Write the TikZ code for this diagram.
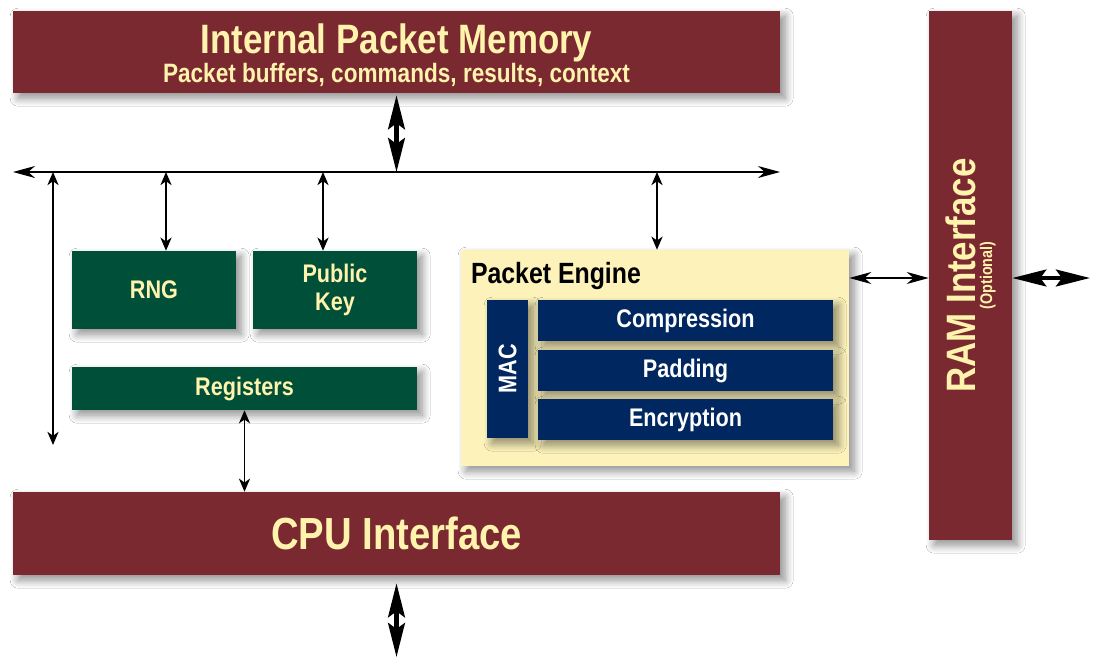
\documentclass[tikz,border=0pt]{standalone}
\usepackage{fontspec}
\setmainfont{Liberation Sans}[FakeStretch=0.85]
\usetikzlibrary{arrows.meta,shadows.blur}

\definecolor{ipmred}{RGB}{123,41,48}
\definecolor{blockgreen}{RGB}{0,79,57}
\definecolor{enginenavy}{RGB}{0,39,96}
\definecolor{engineyellow}{RGB}{252,242,186}
\definecolor{labelcream}{RGB}{255,243,173}

\begin{document}
\begin{tikzpicture}[every node/.style={font=\bfseries, inner sep=0pt}, >={Stealth[length=3.3mm,width=2.8mm,inset=1mm]},
	link/.style={<->, line width=1pt},
	buslink/.style={{Stealth[length=5.5mm,width=3mm,inset=1.7mm]}-{Stealth[length=5.5mm,width=3mm,inset=1.7mm]}, line width=1pt},
	fat/.style={{Stealth[length=8.5mm,width=4.2mm,inset=1.5mm]}-{Stealth[length=8.5mm,width=4.2mm,inset=1.5mm]}, line width=3pt},
	shade/.style={blur shadow={shadow xshift=1.3mm, shadow yshift=-1.3mm, shadow blur radius=2mm, shadow blur steps=12, shadow opacity=45}},
	memory/.style={fill=ipmred, text=labelcream, shade},
	unit/.style={fill=blockgreen, text=labelcream, shade, font=\bfseries\fontsize{18.1}{20}\selectfont},
	stage/.style={fill=enginenavy, text=white, shade, font=\bfseries\fontsize{18.1}{20}\selectfont}]
	\useasboundingbox (0,0) rectangle (27.475,-16.425);
	\fill[white] (0,0) rectangle (27.475,-16.425);
	% memory, cpu and ram blocks
	\node[memory, minimum width=19.175cm, minimum height=2.05cm] (ipm) at (9.9125,-1.3) {};
	\node[text=labelcream, align=center] (ipmtxt) at ([yshift=-0.08cm]ipm.center) {\fontsize{29.2}{20}\selectfont Internal Packet Memory\\\fontsize{18.9}{20}\selectfont Packet buffers, commands, results, context};
	\node[memory, minimum width=19.175cm, minimum height=2.075cm] (cpu) at (9.9125,-13.3375) {\fontsize{32}{36}\selectfont CPU Interface};
	\node[memory, minimum width=2.075cm, minimum height=13.225cm] (ram) at (24.2625,-6.8875) {};
	\node[rotate=90, text=labelcream, align=center] (ramtxt) at (ram) {\fontsize{29.2}{22}\selectfont RAM Interface\\\fontsize{12}{14}\selectfont (Optional)};
	% crypto units
	\node[unit, minimum width=4.1cm, minimum height=1.95cm] (rng) at (3.85,-7.25) {RNG};
	\node[unit, minimum width=4.1cm, minimum height=1.95cm, align=center] (pk) at (8.375,-7.25) {Public\\Key};
	\node[unit, minimum width=8.625cm, minimum height=1.075cm] (reg) at (6.1125,-9.7125) {Registers};
	% packet engine
	\node[fill=engineyellow, shade, minimum width=9.7cm, minimum height=5.4cm] (pe) at (16.375,-8.95) {};
	\node[anchor=base west, font=\bfseries\fontsize{20.8}{24}\selectfont] (petitle) at ([xshift=0.25cm,yshift=-0.85cm]pe.north west) {Packet Engine};
	\node[stage, minimum width=1.025cm, minimum height=3.45cm] (mac) at (12.6875,-9.225) {};
	\node[rotate=90, text=white, font=\bfseries\fontsize{18.1}{20}\selectfont] (mactxt) at (mac) {MAC};
	\node[stage, minimum width=7.375cm, minimum height=1.025cm] (comp) at (17.1375,-8.0125) {Compression};
	\node[stage, minimum width=7.375cm, minimum height=1.025cm] (pad) at (17.1375,-9.2625) {Padding};
	\node[stage, minimum width=7.375cm, minimum height=1.025cm] (enc) at (17.1375,-10.4875) {Encryption};
	% bus
	\coordinate (busL) at (0.325,-4.3);
	\coordinate (busR) at (19.5,-4.3);
	\coordinate (tapleft) at (1.325,-4.3);
	\coordinate (tapend) at (1.325,-11.125);
	\coordinate (taprng) at (4.15,-4.3);
	\coordinate (tappk) at (8.075,-4.3);
	\coordinate (tappe) at (16.425,-4.3);
	\coordinate (ramport) at (24.2625,-6.95);
	\coordinate (ramout) at (27.25,-6.95);
	\coordinate (cpuout) at (9.9125,-16.425);
	\draw[buslink] (busL) -- (busR);
	\draw[link] (tapleft) -- (tapend);
	\draw[link] (taprng) -- (taprng |- rng.north);
	\draw[link] (tappk) -- (tappk |- pk.north);
	\draw[link] (tappe) -- (tappe |- pe.north);
	\draw[link] (reg.south) -- (reg.south |- cpu.north);
	\draw[buslink] (pe.east |- ramport) -- (ram.west |- ramport);
	\draw[fat] ([yshift=-0.05cm]ipm.south) -- (ipm.south |- busL);
	\draw[fat] ([yshift=-0.2cm]cpu.south) -- (cpuout);
	\draw[fat] (ram.east |- ramport) -- (ramout);
\end{tikzpicture}
\end{document}
